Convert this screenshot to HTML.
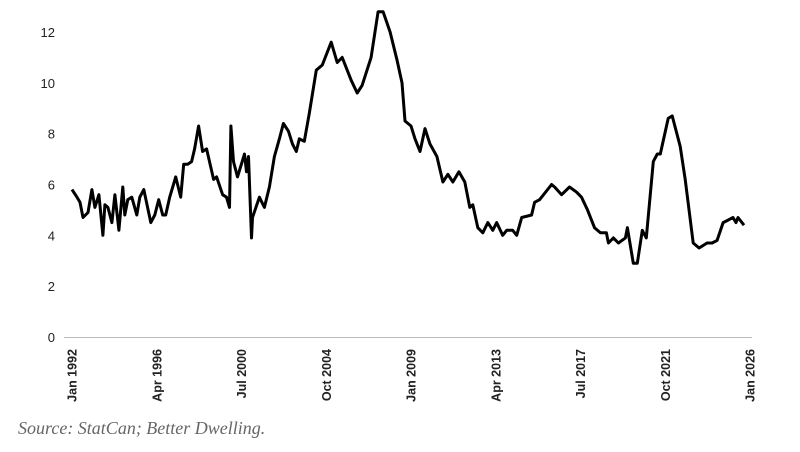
<!DOCTYPE html>
<html><head><meta charset="utf-8"><style>
body{margin:0;background:#fff;width:800px;height:452px;overflow:hidden}
svg{position:absolute;left:0;top:0}
</style></head><body>
<svg id="chart" width="800" height="452" xmlns="http://www.w3.org/2000/svg"></svg>
<script>
const yearOffset=[0,0.25,0.4,0.55,0.8,1.0,1.15,1.35,1.55,1.65,1.8,2.0,2.15,2.35,2.55,2.65,2.8,3.0,3.25,3.4,3.6,3.95,4.15,4.35,4.55,4.7,4.9,5.2,5.45,5.6,5.8,6.0,6.15,6.35,6.55,6.75,7.1,7.25,7.55,7.75,7.9,7.97,8.1,8.3,8.65,8.75,8.85,9.0,9.05,9.4,9.65,9.9,10.15,10.4,10.6,10.85,11.05,11.25,11.4,11.65,11.9,12.25,12.55,13.0,13.3,13.55,14.0,14.3,14.55,15.0,15.35,15.6,15.95,16.3,16.55,16.7,17.0,17.2,17.45,17.7,17.95,18.3,18.6,18.85,19.1,19.4,19.7,19.95,20.1,20.35,20.6,20.85,21.1,21.3,21.6,21.8,22.1,22.3,22.55,23.05,23.2,23.45,24.05,24.2,24.55,24.95,25.3,25.55,25.85,26.2,26.5,26.8,26.9,27.15,27.4,27.75,27.85,28.15,28.35,28.6,28.8,29.15,29.35,29.5,29.9,30.1,30.5,30.75,31.15,31.45,31.85,32.1,32.35,32.65,32.9,33.15,33.3,33.4,33.7];
const rateValues=[5.8,5.5,5.3,4.7,4.9,5.8,5.1,5.6,4.0,5.2,5.1,4.5,5.6,4.2,5.9,4.8,5.4,5.5,4.8,5.5,5.8,4.5,4.8,5.4,4.8,4.8,5.5,6.3,5.5,6.8,6.8,6.9,7.4,8.3,7.3,7.4,6.2,6.3,5.6,5.5,5.1,8.3,6.9,6.3,7.2,6.5,7.1,3.9,4.7,5.5,5.1,5.9,7.1,7.8,8.4,8.1,7.6,7.3,7.8,7.7,8.8,10.5,10.7,11.6,10.8,11.0,10.1,9.6,9.9,11.0,12.8,12.8,12.0,10.9,10.0,8.5,8.3,7.8,7.3,8.2,7.6,7.1,6.1,6.4,6.1,6.5,6.1,5.1,5.2,4.3,4.1,4.5,4.2,4.5,4.0,4.2,4.2,4.0,4.7,4.8,5.3,5.4,6.0,5.9,5.6,5.9,5.7,5.5,5.0,4.3,4.1,4.1,3.7,3.9,3.7,3.9,4.3,2.9,2.9,4.2,3.9,6.9,7.2,7.2,8.6,8.7,7.5,6.2,3.7,3.5,3.7,3.7,3.8,4.5,4.6,4.7,4.5,4.7,4.4];
const yTicks=[0,2,4,6,8,10,12];
const xTickLabels=["Jan 1992","Apr 1996","Jul 2000","Oct 2004","Jan 2009","Apr 2013","Jul 2017","Oct 2021","Jan 2026"];
const xTickOffsets=[0,4.25,8.5,12.75,17,21.25,25.5,29.75,34];
const NS="http://www.w3.org/2000/svg";
const svg=document.getElementById('chart');
const X=o=>72+o*(678/34);
const Y=v=>337-v*(305/12);
function mk(t,a){const e=document.createElementNS(NS,t);for(const k in a)e.setAttribute(k,a[k]);svg.appendChild(e);return e;}
const ax=mk('line',{x1:64,x2:752,y1:337.5,y2:337.5,stroke:'#bbb','stroke-width':1});


yTicks.forEach(v=>{const t=mk('text',{x:55,y:Y(v)+5,'text-anchor':'end','font-family':'Liberation Sans, sans-serif','font-size':13,fill:'#222'});t.textContent=v;

});
xTickLabels.forEach((l,i)=>{const x=X(xTickOffsets[i]);const t=mk('text',{x:0,y:0,transform:`translate(${x+4.5},349) rotate(-90)`,'text-anchor':'end','font-family':'Liberation Sans, sans-serif','font-size':12.5,'font-weight':'bold',fill:'#222'});t.textContent=l;

});
const d=yearOffset.map((o,i)=>(i?'L':'M')+X(o).toFixed(1)+','+Y(rateValues[i]).toFixed(1)).join('');
const p=mk('path',{d:d,fill:'none',stroke:'#000','stroke-width':3,'stroke-linejoin':'round'});


const s=mk('text',{x:18,y:434,'font-family':'Liberation Serif, serif','font-size':18,'font-style':'italic',fill:'#666'});s.textContent='Source: StatCan; Better Dwelling.';


</script>
</body></html>
